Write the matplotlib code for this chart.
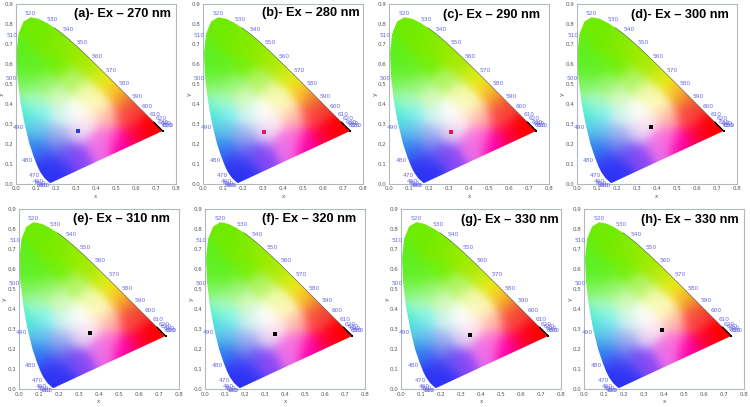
import numpy as np
import matplotlib
matplotlib.use('Agg')
import matplotlib.pyplot as plt
from matplotlib.patches import Polygon

W, H = 750, 407

# panel titles and the measured chromaticity point of each panel
titles = ['(a)- Ex – 270 nm', '(b)- Ex – 280 nm', '(c)- Ex – 290 nm', '(d)- Ex – 300 nm',
          '(e)- Ex – 310 nm', '(f)- Ex – 320 nm', '(g)- Ex – 330 nm', '(h)- Ex – 330 nm']
point_x = [0.31, 0.302, 0.307, 0.372, 0.357, 0.348, 0.342, 0.388]
point_y = [0.267, 0.258, 0.26, 0.283, 0.282, 0.275, 0.27, 0.293]
point_colors = ['#2a40d8', '#e8145a', '#e8145a', 'black', 'black', 'black', 'black', 'black']

# spectral locus (CIE 1931)
locus_x = [.1741, .1733, .1714, .1689, .1644, .1566, .1440, .1241, .1096, .0913, .0687, .0454,
           .0235, .0082, .0039, .0139, .0389, .0743, .1142, .1547, .1929, .2296, .2658, .3016,
           .3373, .3731, .4087, .4441, .4788, .5125, .5448, .5752, .6029, .6270, .6482, .6658,
           .6915, .7079, .7190, .7260, .7300, .7347]
locus_y = [.0050, .0048, .0051, .0069, .0109, .0177, .0297, .0578, .0868, .1327, .2007, .2950,
           .4127, .5384, .6548, .7502, .8120, .8338, .8262, .8059, .7816, .7543, .7243, .6923,
           .6589, .6245, .5896, .5547, .5202, .4866, .4544, .4242, .3965, .3725, .3514, .3340,
           .3083, .2920, .2809, .2740, .2700, .2653]

# wavelength labels around the locus
wl_labels = ['520', '530', '540', '550', '560', '570', '580', '590', '600', '610', '620', '630',
             '640', '650', '680', '510', '500', '490', '480', '470', '460', '450', '440', '380']
wl_x = [.073, .183, .26, .332, .405, .477, .543, .608, .658, .698, .725, .738,
        .75, .755, .762, -.02, -.023, .013, .058, .093, .115, .125, .133, .14]
wl_y = [.853, .823, .772, .708, .64, .57, .503, .44, .39, .348, .325, .31,
        .302, .293, .292, .743, .528, .282, .118, .042, .013, .0, -.006, -.008]

# colours: x, y, r, g, b
anchor_x = [.08, .02, .12, .20, .28, .34, .03, .10, .20, .40, .45, .50, .55, .60,
            .05, .15, .28, .08, .20, .02, .12, .22, .35, .30, .40, .45, .55, .65, .72,
            .45, .52, .60, .40, .30, .20, .30, .20, .10, .04, .10, .20, .12, .07, .15, .16, .24, .35]
anchor_y = [.80, .68, .72, .70, .65, .62, .58, .58, .60, .57, .53, .47, .43, .38,
            .50, .50, .52, .42, .43, .36, .35, .34, .45, .36, .40, .33, .33, .28, .27,
            .24, .21, .24, .20, .15, .08, .25, .25, .27, .30, .25, .20, .18, .20, .05, .12, .15, .30]
anchor_r = [110, 95, 115, 130, 150, 165, 95, 100, 115, 190, 235, 250, 240, 240,
            130, 150, 175, 170, 215, 80, 130, 210, 240, 255, 255, 255, 255, 255, 255,
            255, 255, 255, 235, 140, 50, 225, 170, 120, 70, 90, 120, 50, 40, 40, 60, 100, 255]
anchor_g = [235, 240, 235, 235, 235, 235, 240, 240, 240, 235, 235, 200, 130, 60,
            245, 245, 245, 250, 250, 240, 245, 245, 250, 255, 250, 190, 70, 0, 0,
            120, 0, 0, 110, 70, 50, 205, 190, 215, 220, 180, 140, 110, 130, 50, 70, 80, 235]
anchor_b = [0, 30, 0, 0, 0, 0, 40, 30, 10, 20, 20, 40, 50, 50,
            100, 110, 100, 190, 190, 210, 240, 240, 170, 255, 190, 170, 70, 0, 0,
            220, 170, 70, 235, 245, 245, 245, 240, 235, 220, 240, 240, 245, 235, 245, 245, 245, 240]

# axes box of every panel in pixels: left, top
box_left = [15.7, 203.3, 389.3, 576.7, 18.7, 205.3, 401.3, 584.3]
box_top = [4, 4, 4, 4, 209, 209, 209, 209]
box_w, box_h = 160, 180
title_cx = [122.5, 311.3, 491.8, 680, 121.5, 309.5, 509.8, 689.8]
title_cy = [13.7, 13, 15, 15, 219, 219, 220.5, 219.5]


def diagram_colors():
    gx, gy = np.meshgrid(np.linspace(0, 0.8, 200), np.linspace(0, 0.9, 225))
    ax_ = np.array(anchor_x)[:, None, None]
    ay_ = np.array(anchor_y)[:, None, None]
    # gaussian weighted average of the read colours
    d2 = (gx - ax_) ** 2 + (gy - ay_) ** 2
    weights = np.exp(-d2 / (2 * 0.042 ** 2)) + 1e-12
    weights /= weights.sum(axis=0)
    chans = []
    for values in (anchor_r, anchor_g, anchor_b):
        chans.append((np.array(values)[:, None, None] * weights).sum(axis=0) / 255)
    return np.dstack(chans)


img = diagram_colors()
fig = plt.figure(figsize=(W / 100, H / 100), dpi=100)

for i, title in enumerate(titles):
    ax = fig.add_axes([box_left[i] / W, 1 - (box_top[i] + box_h) / H, box_w / W, box_h / H])
    im = ax.imshow(img, origin='lower', extent=[0, 0.8, 0, 0.9], aspect='auto', interpolation='bilinear')
    im.set_clip_path(Polygon(np.column_stack([locus_x, locus_y]), closed=True, transform=ax.transData))
    ax.plot(locus_x[20:], locus_y[20:], color='#555555', lw=0.4)
    ax.plot(locus_x[-6:], locus_y[-6:], color='black', lw=1.0)
    ax.plot(point_x[i], point_y[i], 's', color=point_colors[i], ms=3, mew=0)
    ax.plot(0.735, 0.265, 's', color='black', ms=1.8, mew=0)
    for lab, lx, ly in zip(wl_labels, wl_x, wl_y):
        ax.text(lx, ly, lab, color='#6a6ae6', fontsize=4.2, ha='center', va='center', clip_on=False)
    ax.set_xlim(0, 0.8)
    ax.set_ylim(0, 0.9)
    ax.set_xticks(np.arange(0, 0.81, 0.1))
    ax.set_yticks(np.arange(0, 0.91, 0.1))
    ax.tick_params(labelsize=4, length=0, pad=1.8, labelcolor='#555555')
    ax.set_xlabel('x', fontsize=4, color='#555555', labelpad=1.5)
    ax.set_ylabel('y', fontsize=4.5, color='#555555', labelpad=0.5, rotation=90)
    for s in ax.spines.values():
        s.set_color('#b0baba')
        s.set_linewidth(0.8)
    fig.text(title_cx[i] / W, 1 - title_cy[i] / H, title, fontsize=9.2, fontweight='bold',
             family='Liberation Sans', ha='center', va='center', color='black')

fig.savefig('out.png', dpi=100)
